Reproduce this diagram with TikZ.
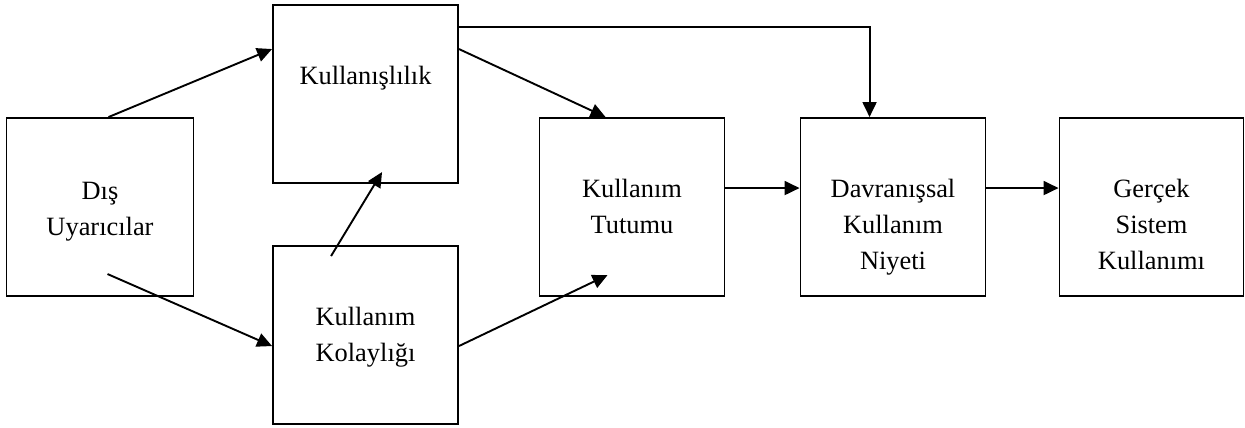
\documentclass[tikz,border=0pt]{standalone}
\usepackage{fontspec}
\setmainfont{Liberation Serif}
\usetikzlibrary{arrows.meta}
\begin{document}
\begin{tikzpicture}[x=1pt,y=-1pt,
  box/.style={draw,line width=1.9pt,rectangle,inner sep=0pt,minimum width=185pt,minimum height=178pt},
  lbl/.style={anchor=north,inner sep=0pt,align=center,font=\fontsize{26.4}{36}\selectfont},
  conn/.style={line width=1.9pt,-{Triangle[length=15pt,width=14pt]}}]
\useasboundingbox (0,0) rectangle (1245,428);
\node[box,minimum width=187pt] (dis) at (100,207) {};
\node[box] (kul) at (365.5,94) {};
\node[box] (kol) at (365.5,335) {};
\node[box] (tut) at (632,207) {};
\node[box] (dav) at (893,207) {};
\node[box,minimum width=184pt] (ger) at (1151.5,207) {};
\node[lbl] (tdis) at ([yshift=-57pt]dis.north) {\strut Dış\\\strut Uyarıcılar};
\node[lbl] (tkul) at ([yshift=-55pt]kul.north) {\strut Kullanışlılık};
\node[lbl] (tkol) at ([yshift=-55pt]kol.north) {\strut Kullanım\\\strut Kolaylığı};
\node[lbl] (ttut) at ([yshift=-55pt]tut.north) {\strut Kullanım\\\strut Tutumu};
\node[lbl] (tdav) at ([yshift=-55pt]dav.north) {\strut Davranışsal\\\strut Kullanım\\\strut Niyeti};
\node[lbl] (tger) at ([yshift=-55pt]ger.north) {\strut Gerçek\\\strut Sistem\\\strut Kullanımı};
\draw[conn] ([xshift=103pt]dis.north west) -- ([yshift=-45pt]kul.north west);
\draw[conn] ([xshift=102pt,yshift=-157pt]dis.north west) -- ([yshift=-101pt]kol.north west);
\draw[conn] ([xshift=59pt,yshift=-11pt]kol.north west) -- ([xshift=110pt,yshift=-168pt]kul.north west);
\draw[conn] ([yshift=-45pt]kul.north east) -- ([xshift=67pt]tut.north west);
\draw[conn] ([yshift=-101pt]kol.north east) -- ([xshift=69pt,yshift=-158pt]tut.north west);
\draw[conn] ([yshift=-23pt]kul.north east) -| ([xshift=70pt]dav.north west);
\draw[conn] ([yshift=-71pt]tut.north east) -- ([yshift=-71pt]dav.north west);
\draw[conn] ([yshift=-71pt]dav.north east) -- ([yshift=-71pt]ger.north west);
\end{tikzpicture}
\end{document}
